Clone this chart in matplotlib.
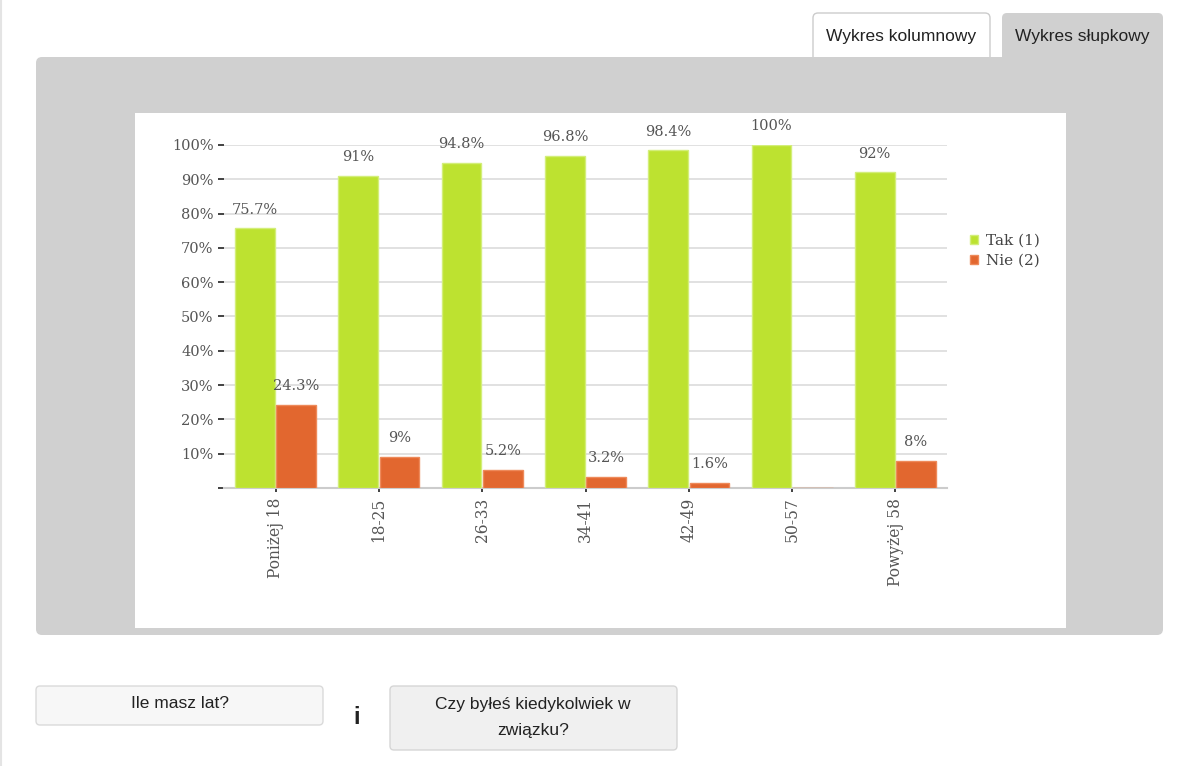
import matplotlib
matplotlib.use("Agg")
import matplotlib.pyplot as plt
from matplotlib.patches import FancyBboxPatch, Rectangle
import numpy as np

categories = ["Poniżej 18", "18-25", "26-33", "34-41", "42-49", "50-57", "Powyżej 58"]
tak = [75.7, 91, 94.8, 96.8, 98.4, 100, 92]
nie = [24.3, 9, 5.2, 3.2, 1.6, 0, 8]
series_names = ["Tak (1)", "Nie (2)"]
y_ticks = [0, 10, 20, 30, 40, 50, 60, 70, 80, 90, 100]
y_tick_labels = [""] + [f"{v}%" for v in y_ticks[1:]]

GREEN = "#bde230"
ORANGE = "#e2672f"
TEXT = "#555555"
W, H = 1178, 766


def box(ax, x0, y0, x1, y1, fc, ec="none", r=5, z=1, lw=1):
    p = FancyBboxPatch((x0, y0), x1 - x0, y1 - y0,
                       boxstyle=f"round,pad=0,rounding_size={r}",
                       fc=fc, ec=ec, lw=lw, zorder=z)
    ax.add_patch(p)


def draw_page(fig):
    bg = fig.add_axes([0, 0, 1, 1], zorder=0)
    bg.set_xlim(0, W)
    bg.set_ylim(H, 0)
    bg.axis("off")
    sans = "Liberation Sans"
    fs = 12.5

    bg.plot([1, 1], [0, H], color="#e4e4e4", lw=1.5)

    # tabs
    box(bg, 813, 13, 990, 75, "white", "#cccccc", r=5, z=1)
    bg.text(901, 37, "Wykres kolumnowy", ha="center", va="center",
            fontsize=fs, family=sans, color="#222222", zorder=5)
    box(bg, 1002, 13, 1163, 75, "#d0d0d0", r=5, z=2)
    bg.text(1082, 37, "Wykres słupkowy", ha="center", va="center",
            fontsize=fs, family=sans, color="#222222", zorder=5)

    # panel and white chart area
    box(bg, 36, 57, 1163, 635, "#d0d0d0", r=6, z=2)
    bg.add_patch(Rectangle((135, 113), 931, 515, fc="white", ec="none", zorder=3))

    # bottom buttons
    box(bg, 36, 686, 323, 725, "#f7f7f7", "#dadada", r=4, z=2)
    bg.text(180, 704, "Ile masz lat?", ha="center", va="center",
            fontsize=fs, family=sans, color="#222222", zorder=5)
    bg.text(357, 718, "i", ha="center", va="center",
            fontsize=17, family=sans, weight="bold", color="#222222", zorder=5)
    box(bg, 390, 686, 677, 750, "#f0f0f0", "#d6d6d6", r=4, z=2)
    bg.text(533, 705, "Czy byłeś kiedykolwiek w", ha="center", va="center",
            fontsize=fs, family=sans, color="#222222", zorder=5)
    bg.text(533, 730, "związku?", ha="center", va="center",
            fontsize=fs, family=sans, color="#222222", zorder=5)


def draw_chart(fig):
    left, right, top, bottom = 224, 947, 145, 488
    ax = fig.add_axes([left / W, 1 - bottom / H, (right - left) / W, (bottom - top) / H],
                      zorder=2)
    ax.set_facecolor("none")
    x = np.arange(len(categories))
    serif = "DejaVu Serif"

    b1 = ax.bar(x - 0.2, tak, width=0.385, color=GREEN, edgecolor="#d3ee7a",
                linewidth=1, zorder=3, label=series_names[0])
    b2 = ax.bar(x + 0.2, nie, width=0.385, color=ORANGE, edgecolor="#ee8a5a",
                linewidth=1, zorder=3, label=series_names[1])

    for bars, vals in ((b1, tak), (b2, nie)):
        for rect, v in zip(bars, vals):
            if v <= 0:
                continue
            ax.annotate(f"{v:g}%", (rect.get_x() + rect.get_width() / 2, v),
                        xytext=(0, 13.5), textcoords="offset points",
                        ha="center", va="center", fontsize=10.5, family=serif,
                        color=TEXT, clip_on=False, zorder=4)

    ax.set_xlim(-0.5, len(categories) - 0.5)
    ax.set_ylim(0, 100)
    ax.set_yticks(y_ticks)
    ax.set_yticklabels(y_tick_labels, family=serif, fontsize=10.5, color=TEXT)
    ax.set_xticks(x)
    ax.set_xticklabels(categories, rotation=90, family=serif, fontsize=11.2, color=TEXT)
    ax.tick_params(axis="y", length=4.5, width=1.3, color="#333333", pad=3)
    ax.tick_params(axis="x", length=3, width=1.3, color="#333333", pad=4)
    ax.grid(axis="y", color="#dcdcdc", lw=1.2)
    ax.set_axisbelow(True)
    for s in ("top", "right", "left"):
        ax.spines[s].set_visible(False)
    ax.spines["bottom"].set_color("#cccccc")
    ax.spines["bottom"].set_linewidth(1.5)

    ax.legend(loc="upper left", bbox_to_anchor=(970 / W, 1 - 234 / H),
              bbox_transform=fig.transFigure, frameon=False,
              prop={"family": serif, "size": 11}, labelcolor="#444444",
              handlelength=0.5, handleheight=0.5, handletextpad=0.55,
              labelspacing=0.4, borderpad=0, borderaxespad=0)


def main():
    fig = plt.figure(figsize=(W / 100, H / 100), dpi=100)
    fig.patch.set_facecolor("white")
    draw_page(fig)
    draw_chart(fig)
    fig.savefig("out.png", dpi=100)


if __name__ == "__main__":
    main()
